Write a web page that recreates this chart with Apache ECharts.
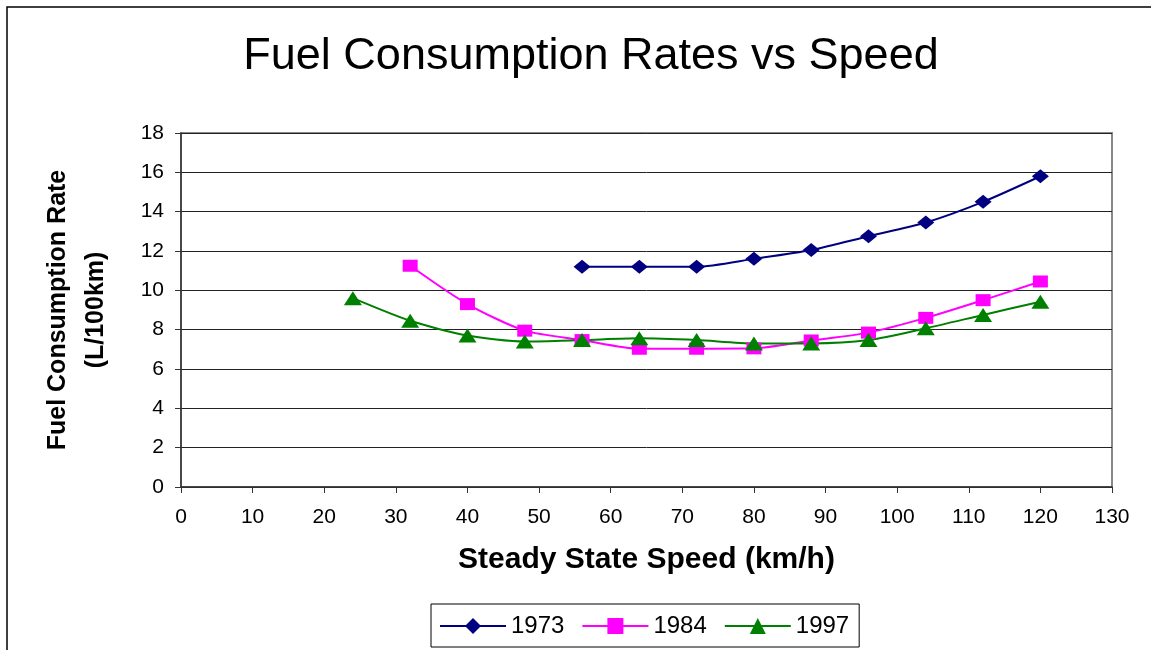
<!DOCTYPE html>
<html>
<head>
<meta charset="utf-8">
<script src="https://cdn.jsdelivr.net/npm/echarts@6/dist/echarts.min.js"></script>
<style>html,body{margin:0;padding:0;background:#fff}#c{width:1151px;height:650px}</style>
</head>
<body>
<div id="c"></div>
<script>
var speeds1973 = [56, 64, 72, 80, 88, 96, 104, 112, 120];
var rates1973 = [11.2, 11.2, 11.2, 11.6, 12.05, 12.75, 13.45, 14.5, 15.8];
var speeds1984 = [32, 40, 48, 56, 64, 72, 80, 88, 96, 104, 112, 120];
var rates1984 = [11.25, 9.3, 7.95, 7.47, 7.03, 7.03, 7.05, 7.45, 7.85, 8.6, 9.5, 10.45];
var speeds1997 = [24, 32, 40, 48, 56, 64, 72, 80, 88, 96, 104, 112, 120];
var rates1997 = [9.6, 8.45, 7.7, 7.4, 7.47, 7.56, 7.47, 7.3, 7.3, 7.47, 8.07, 8.75, 9.42];
var xTicks = [0, 130, 10];
var yTicks = [0, 18, 2];

function pairs(xs, ys) { return xs.map(function (x, i) { return [x, ys[i]]; }); }

var font = '"Liberation Sans", Arial, sans-serif';
var chart = echarts.init(document.getElementById('c'));
chart.setOption({
  animation: false,
  backgroundColor: '#fff',
  graphic: [{
    type: 'rect', shape: { x: 7, y: 7, width: 1300, height: 800 },
    style: { fill: 'none', stroke: '#000', lineWidth: 1.5 }, silent: true, z: 100
  }],
  title: {
    text: 'Fuel Consumption Rates vs Speed', left: 586, textAlign: 'center', top: 29,
    textStyle: { fontFamily: font, fontSize: 45, fontWeight: 'normal', color: '#000' }
  },
  grid: { left: 181, right: 39, top: 133, bottom: 163, show: true, borderColor: '#888', borderWidth: 2, backgroundColor: '#fff' },
  legend: {
    left: 431, top: 604,
    padding: [10, 10, 9, 8],
    borderColor: '#000', borderWidth: 1,
    itemWidth: 66, itemHeight: 20, itemGap: 17,
    textStyle: { fontFamily: font, fontSize: 24, color: '#000' },
    data: ['1973', '1984', '1997']
  },
  xAxis: {
    type: 'value', min: xTicks[0], max: xTicks[1], interval: xTicks[2],
    name: 'Steady State Speed (km/h)', nameLocation: 'middle', nameGap: 58,
    nameTextStyle: { fontFamily: font, fontSize: 30, fontWeight: 'bold', color: '#000' },
    axisLine: { show: true, onZero: false, lineStyle: { color: '#333', width: 1.5 } },
    axisTick: { show: true, length: 6, lineStyle: { color: '#333' } },
    axisLabel: { fontFamily: font, fontSize: 21, color: '#000', margin: 20 },
    splitLine: { show: false }
  },
  yAxis: {
    type: 'value', min: yTicks[0], max: yTicks[1], interval: yTicks[2],
    name: 'Fuel Consumption Rate\n(L/100km)', nameLocation: 'middle', nameGap: 66, nameRotate: 90,
    nameTextStyle: { fontFamily: font, fontSize: 25, fontWeight: 'bold', color: '#000', lineHeight: 38 },
    axisLine: { show: true, lineStyle: { color: '#333', width: 1.5 } },
    axisTick: { show: true, length: 6, lineStyle: { color: '#333' } },
    axisLabel: { fontFamily: font, fontSize: 21, color: '#000', margin: 17 },
    splitLine: { show: true, lineStyle: { color: '#222', width: 1 } }
  },
  series: [
    { name: '1973', type: 'line', data: pairs(speeds1973, rates1973), smooth: 0.25,
      symbol: 'diamond', symbolSize: [17, 14], color: '#000080', lineStyle: { width: 2 } },
    { name: '1984', type: 'line', data: pairs(speeds1984, rates1984), smooth: 0.25,
      symbol: 'rect', symbolSize: [15, 12], color: '#FF00FF', lineStyle: { width: 2 } },
    { name: '1997', type: 'line', data: pairs(speeds1997, rates1997), smooth: 0.25,
      symbol: 'triangle', symbolSize: [18, 14], color: '#008000', lineStyle: { width: 2 } }
  ]
});
</script>
</body>
</html>
